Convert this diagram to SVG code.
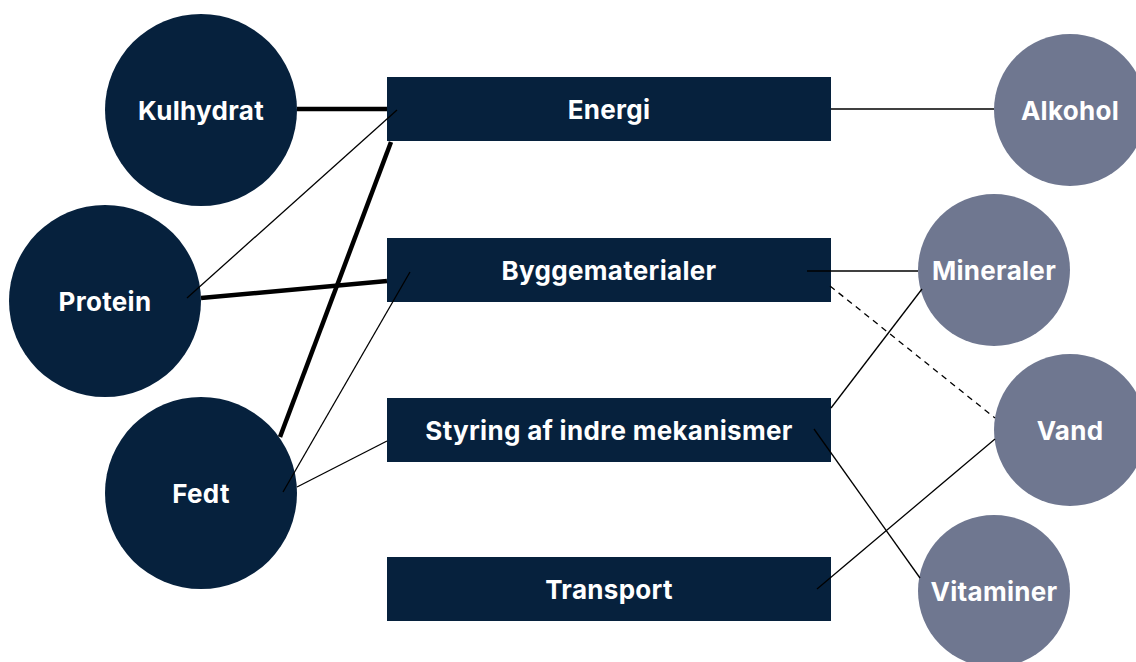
<svg xmlns="http://www.w3.org/2000/svg" width="1136" height="662" viewBox="0 0 1136 662">
<style>
.n{fill:#06213D}
.g{fill:#6F7790}
.t{fill:#fff;font-family:Inter,"Liberation Sans",sans-serif;font-weight:bold;font-size:26px;letter-spacing:0.3px;text-anchor:middle;dominant-baseline:central}
.thin{stroke:#000;stroke-width:1.3;fill:none}
.thick{stroke:#000;stroke-width:4.5;fill:none}
.dash{stroke:#000;stroke-width:1.3;stroke-dasharray:6 5;fill:none}
</style>
<rect width="1136" height="662" fill="#fff"/>
<g id="kulhydrat"><circle class="n" cx="201" cy="110" r="96"/><text class="t" x="201" y="110">Kulhydrat</text></g>
<g id="protein"><circle class="n" cx="105" cy="301" r="96"/><text class="t" x="105" y="301">Protein</text></g>
<g id="fedt"><circle class="n" cx="201" cy="493" r="96"/><text class="t" x="201" y="493">Fedt</text></g>
<g id="energi"><rect class="n" x="387" y="77" width="444" height="64"/><text class="t" x="609" y="109">Energi</text></g>
<g id="byggematerialer"><rect class="n" x="387" y="238" width="444" height="64"/><text class="t" x="609" y="270">Byggematerialer</text></g>
<g id="styring"><rect class="n" x="387" y="398" width="444" height="64"/><text class="t" x="609" y="430">Styring af indre mekanismer</text></g>
<g id="transport"><rect class="n" x="387" y="557" width="444" height="64"/><text class="t" x="609" y="589">Transport</text></g>
<g id="alkohol"><circle class="g" cx="1070" cy="110" r="76"/><text class="t" x="1070" y="110">Alkohol</text></g>
<g id="mineraler"><circle class="g" cx="994" cy="270" r="76"/><text class="t" x="994" y="270">Mineraler</text></g>
<g id="vand"><circle class="g" cx="1070" cy="430" r="76"/><text class="t" x="1070" y="430">Vand</text></g>
<g id="vitaminer"><circle class="g" cx="994" cy="591" r="76"/><text class="t" x="994" y="591">Vitaminer</text></g>
<g id="connectors">
<line class="thick" x1="297" y1="109" x2="387" y2="109"/>
<line class="thin" x1="187" y1="298" x2="397" y2="110"/>
<line class="thick" x1="280" y1="437" x2="391" y2="142"/>
<line class="thick" x1="201" y1="298" x2="387" y2="281"/>
<line class="thin" x1="283" y1="492" x2="410" y2="272"/>
<line class="thin" x1="297" y1="487" x2="387" y2="441"/>
<line class="thin" x1="831" y1="109" x2="994" y2="109"/>
<line class="thin" x1="807" y1="271" x2="918" y2="271"/>
<line class="dash" x1="830" y1="286" x2="995" y2="418"/>
<line class="thin" x1="831" y1="408" x2="922" y2="289"/>
<line class="thin" x1="814" y1="429" x2="920" y2="578"/>
<line class="thin" x1="817" y1="589" x2="995" y2="439"/>
</g>
</svg>
